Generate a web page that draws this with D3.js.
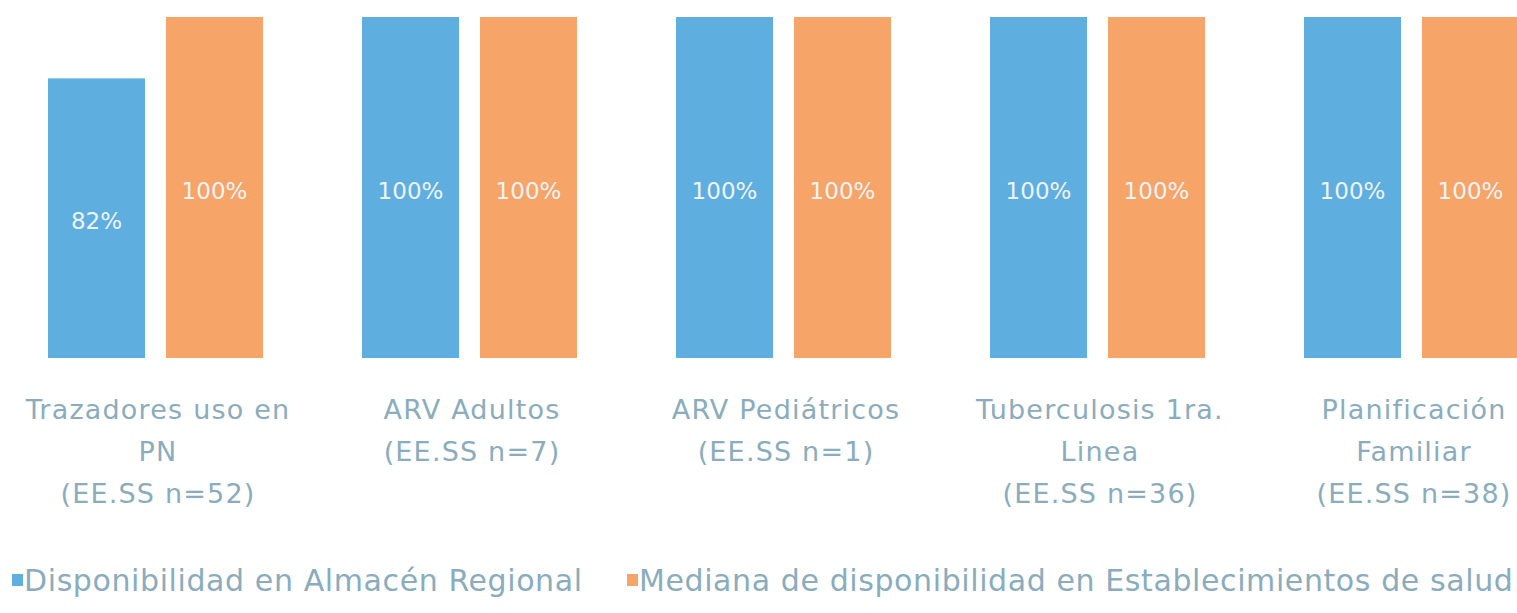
<!DOCTYPE html>
<html>
<head>
<meta charset="utf-8">
<script src="https://cdn.jsdelivr.net/npm/d3@7"></script>
<style>
  body { margin: 0; background: #fff; }
  text { font-family: "DejaVu Sans", sans-serif; }
</style>
</head>
<body>
<div id="chart"></div>
<script>
const categories = [
  ['Trazadores uso en', 'PN', '(EE.SS n=52)'],
  ['ARV Adultos', '(EE.SS n=7)'],
  ['ARV Pediátricos', '(EE.SS n=1)'],
  ['Tuberculosis 1ra.', 'Linea', '(EE.SS n=36)'],
  ['Planificación', 'Familiar', '(EE.SS n=38)']
];
const series = ['Disponibilidad en Almacén Regional', 'Mediana de disponibilidad en Establecimientos de salud'];
const almacen = [82, 100, 100, 100, 100];
const mediana = [100, 100, 100, 100, 100];

const width = 1517, height = 613;
const colors = ['#5eaee0', '#f6a468'];

const svg = d3.select('#chart')
  .append('svg')
  .attr('width', width)
  .attr('height', height)

const keys = categories.map((c, i) => i);
const x0 = d3.scaleBand().domain(keys).range([-2, 1568]);
const x1 = d3.scaleBand().domain(series).range([50, 265]).paddingInner(0.178);
const y = d3.scaleLinear().domain([0, 100]).range([358, 17]);

const rows = keys.map(i => [almacen[i], mediana[i]]);

const groups = svg.selectAll('.grp')
  .data(rows)
  .enter()
  .append('g')
  .attr('transform', (d, i) => `translate(${x0(i)},0)`)

groups.selectAll('rect')
  .data(d => d.map((v, j) => ({ v, s: series[j], j })))
  .enter()
  .append('rect')
  .attr('x', d => x1(d.s))
  .attr('y', d => y(d.v))
  .attr('width', x1.bandwidth())
  .attr('height', d => y(0) - y(d.v))
  .attr('fill', d => colors[d.j])

groups.selectAll('.val')
  .data(d => d.map((v, j) => ({ v, s: series[j], j })))
  .enter()
  .append('text')
  .attr('x', d => x1(d.s) + x1.bandwidth() / 2)
  .attr('y', d => (y(d.v) + y(0)) / 2 + 3)
  .attr('dy', '0.35em')
  .attr('text-anchor', 'middle')
  .attr('fill', '#eef3f7')
  .attr('font-size', 23)
  .text(d => d.v + '%')

// category labels
svg.selectAll('.cat')
  .data(categories)
  .enter()
  .append('text')
  .attr('text-anchor', 'middle')
  .attr('fill', '#8aacbc')
  .attr('font-size', 27)
  .attr('letter-spacing', 1.2)
  .attr('x', (d, i) => x0(i) + 160)
  .attr('y', 419)
  .selectAll('tspan')
  .data(d => d)
  .enter()
  .append('tspan')
  .attr('x', function () { return this.parentNode.getAttribute('x'); })
  .attr('dy', (d, i) => i === 0 ? 0 : 42)
  .text(d => d)

// legend
const legendX = [12, 627];
const legend = svg.selectAll('.leg')
  .data(series)
  .enter()
  .append('g')
  .attr('transform', (d, i) => `translate(${legendX[i]},580)`)

legend.append('rect')
  .attr('x', 0).attr('y', -6)
  .attr('width', 11).attr('height', 12)
  .attr('fill', (d, i) => colors[i])

legend.append('text')
  .attr('x', 12)
  .attr('dy', '0.35em')
  .attr('fill', '#8aacbc')
  .attr('font-size', 30)
  .attr('letter-spacing', 0.6)
  .text(d => d)
</script>
</body>
</html>
